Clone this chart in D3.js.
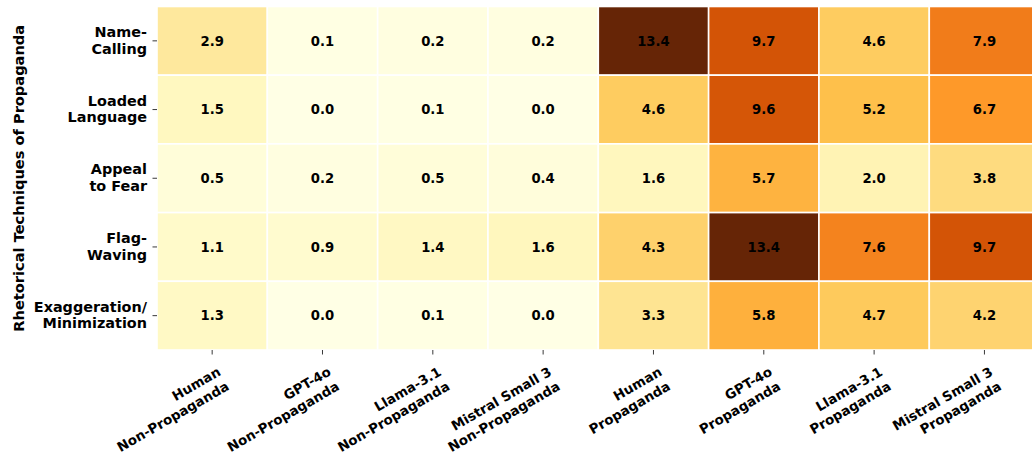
<!DOCTYPE html>
<html><head><meta charset="utf-8">
<script src="https://cdn.jsdelivr.net/npm/d3@7/dist/d3.min.js"></script>
<style>body{margin:0;background:#fff;}svg{display:block;font-family:"DejaVu Sans",sans-serif;}</style>
</head><body><svg id="c" width="1032" height="457"></svg>
<script>
const columns = [
  ["Human","Non-Propaganda"],["GPT-4o","Non-Propaganda"],["Llama-3.1","Non-Propaganda"],["Mistral Small 3","Non-Propaganda"],
  ["Human","Propaganda"],["GPT-4o","Propaganda"],["Llama-3.1","Propaganda"],["Mistral Small 3","Propaganda"]
];
const rows = [["Name-","Calling"],["Loaded","Language"],["Appeal","to Fear"],["Flag-","Waving"],["Exaggeration/","Minimization"]];
const nameCalling   = [2.9,0.1,0.2,0.2,13.4,9.7,4.6,7.9];
const loadedLang    = [1.5,0.0,0.1,0.0,4.6,9.6,5.2,6.7];
const appealFear    = [0.5,0.2,0.5,0.4,1.6,5.7,2.0,3.8];
const flagWaving    = [1.1,0.9,1.4,1.6,4.3,13.4,7.6,9.7];
const exaggeration  = [1.3,0.0,0.1,0.0,3.3,5.8,4.7,4.2];
const values = [nameCalling, loadedLang, appealFear, flagWaving, exaggeration];
const yTitle = "Rhetorical Techniques of Propaganda";

const svg = d3.select("#c");
const mLeft = 157, mRight = 1039.6, mTop = 6.5, mBottom = 350;
const x = d3.scaleBand().domain(d3.range(columns.length)).range([mLeft, mRight]);
const y = d3.scaleBand().domain(d3.range(rows.length)).range([mTop, mBottom]);
const stops = ["#ffffe5","#fff7bc","#fee391","#fec44f","#fe9929","#ec7014","#cc4c02","#993404","#662506"];
const vmax = d3.max(values.flat());
const color = d3.scaleLinear().domain(stops.map((_, i) => i / (stops.length - 1) * vmax)).range(stops).interpolate(d3.interpolateRgb);
const FS = 14.4;

const cells = [];
values.forEach((r, ri) => r.forEach((v, ci) => cells.push({ri, ci, v})));
svg.append("g").selectAll("rect").data(cells).join("rect")
  .attr("x", d => x(d.ci)).attr("y", d => y(d.ri))
  .attr("width", x.bandwidth()).attr("height", y.bandwidth())
  .attr("fill", d => color(d.v)).attr("stroke", "#fff").attr("stroke-width", 1.6);
svg.append("g").selectAll("text").data(cells).join("text")
  .attr("x", d => x(d.ci) + x.bandwidth() / 2).attr("y", d => y(d.ri) + y.bandwidth() / 2)
  .attr("dy", "0.36em").attr("text-anchor", "middle")
  .attr("font-size", 13.2).attr("font-weight", "bold").attr("fill", "#000")
  .text(d => d.v.toFixed(1));

// y ticks
const yt = svg.append("g");
rows.forEach((lab, i) => {
  const cy = y(i) + y.bandwidth() / 2;
  yt.append("line").attr("x1", mLeft - 4.5).attr("x2", mLeft).attr("y1", cy).attr("y2", cy).attr("stroke", "#222").attr("stroke-width", 0.9);
  const t = yt.append("text").attr("text-anchor", "end").attr("font-size", FS).attr("font-weight", "bold").attr("fill", "#000");
  t.append("tspan").attr("x", 147).attr("y", cy - 4).text(lab[0]);
  t.append("tspan").attr("x", 147).attr("y", cy + 12.8).text(lab[1]);
});
// x ticks
const xt = svg.append("g");
columns.forEach((lab, i) => {
  const cx = x(i) + x.bandwidth() / 2;
  xt.append("line").attr("x1", cx).attr("x2", cx).attr("y1", mBottom).attr("y2", mBottom + 4.5).attr("stroke", "#222").attr("stroke-width", 0.9);
  const g = xt.append("g").attr("transform", `translate(${cx + 9.5},${mBottom + 24.5}) rotate(-30)`);
  const t = g.append("text").attr("text-anchor", "end").attr("font-size", 13.4).attr("font-weight", "bold").attr("fill", "#000");
  t.append("tspan").attr("x", 0).attr("y", 0).text(lab[0]);
  t.append("tspan").attr("x", 0).attr("y", 16.8).text(lab[1]);
});
svg.append("text").attr("transform", `translate(23.5,${(mTop + mBottom) / 2}) rotate(-90)`)
  .attr("text-anchor", "middle").attr("font-size", 14.6).attr("font-weight", "bold").attr("fill", "#000").text(yTitle);
</script></body></html>
